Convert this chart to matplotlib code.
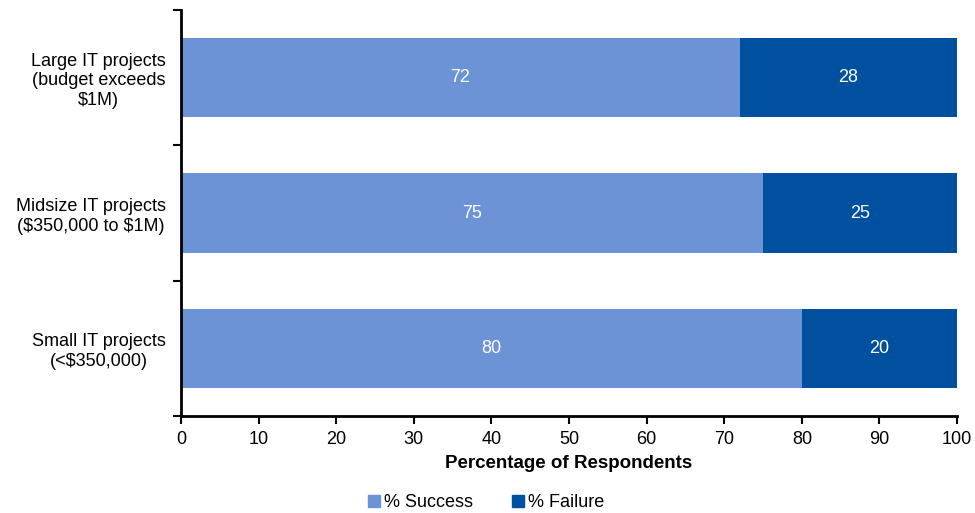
import matplotlib
import matplotlib.pyplot as plt
from matplotlib.patches import Patch

matplotlib.use("Agg")

plt.rcParams["font.family"] = ["Liberation Sans", "DejaVu Sans"]
plt.rcParams["text.parse_math"] = False

categories = [
    "Large IT projects\n(budget exceeds\n$1M)",
    "Midsize IT projects\n($350,000 to $1M)",
    "Small IT projects\n(<$350,000)",
]
success = [72, 75, 80]
failure = [28, 25, 20]

SUCCESS_COLOR = "#6b93d6"
FAILURE_COLOR = "#0050a0"


def main():
    fig = plt.figure(figsize=(9.75, 5.13), dpi=100)
    ax = fig.add_axes([0.1856, 0.189, 0.796, 0.7915])

    pos = list(range(len(categories)))
    ax.barh(pos, success, height=0.585, color=SUCCESS_COLOR, label="% Success")
    ax.barh(pos, failure, left=success, height=0.585, color=FAILURE_COLOR,
            label="% Failure")

    for y, s, f in zip(pos, success, failure):
        ax.text(s / 2, y, str(s), ha="center", va="center", color="white", fontsize=13)
        ax.text(s + f / 2, y, str(f), ha="center", va="center", color="white", fontsize=13)

    ax.set_xlim(0, 100)
    ax.set_ylim(len(categories) - 0.5, -0.5)
    ax.set_xticks(range(0, 101, 10))
    ax.tick_params(axis="x", labelsize=13, length=6, width=1.5, direction="out", pad=5)

    # category labels sit between the boundary ticks
    ax.set_yticks([p - 0.5 for p in pos] + [len(categories) - 0.5])
    ax.set_yticklabels([])
    ax.tick_params(axis="y", length=6, width=1.5, direction="out")
    ax.set_yticks(pos, minor=True)
    ax.set_yticklabels(categories, minor=True, fontsize=13, ha="right",
                       multialignment="center")
    ax.tick_params(axis="y", which="minor", length=0, pad=11)

    for side in ("top", "right"):
        ax.spines[side].set_visible(False)
    for side in ("left", "bottom"):
        ax.spines[side].set_linewidth(2)

    ax.set_xlabel("Percentage of Respondents", fontsize=13.5, fontweight="bold", labelpad=5)

    handles = [Patch(color=SUCCESS_COLOR, label="% Success"),
               Patch(color=FAILURE_COLOR, label="% Failure")]
    fig.legend(handles=handles, loc="center", bbox_to_anchor=(0.4985, 0.02), ncol=2,
               frameon=False, fontsize=13, handlelength=0.65, handleheight=0.65,
               handletextpad=0.2, columnspacing=2.2, borderpad=0)

    fig.savefig("out.png", dpi=100)
    plt.close(fig)


if __name__ == "__main__":
    main()
